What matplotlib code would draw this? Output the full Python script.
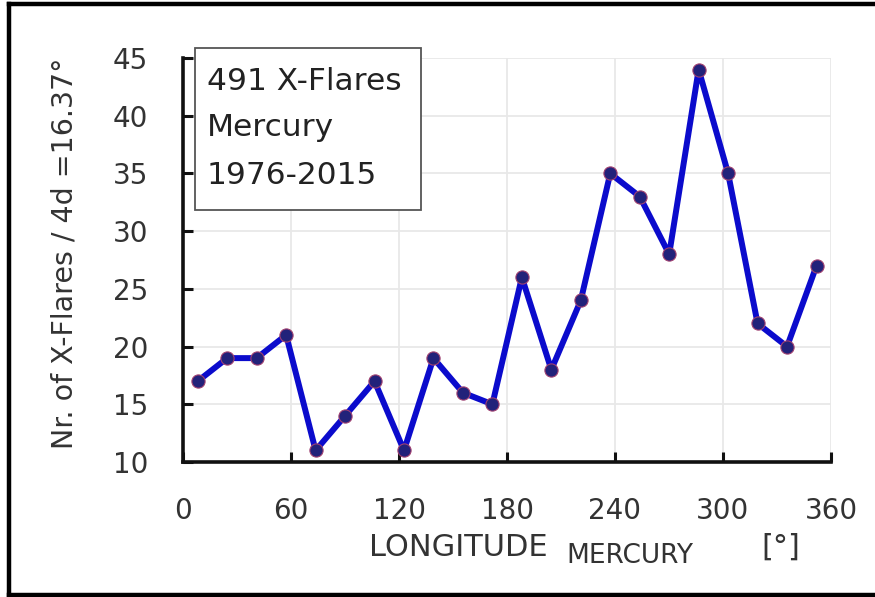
import matplotlib
matplotlib.use("Agg")
import matplotlib.pyplot as plt
from matplotlib.patches import Rectangle
from matplotlib.lines import Line2D

# ---- data ----
bin_width = 16.37
counts = [17, 19, 19, 21, 11, 14, 17, 11, 19, 16, 15, 26, 18, 24, 35, 33, 28, 44, 35, 22, 20, 27]
longitudes = [bin_width / 2 + bin_width * i for i in range(len(counts))]
x_ticks = [0, 60, 120, 180, 240, 300, 360]
y_ticks = [10, 15, 20, 25, 30, 35, 40, 45]
box_lines = ["491 X-Flares", "Mercury", "1976-2015"]
y_label = "Nr. of X-Flares / 4d =16.37°"

plt.rcParams['font.family'] = ['DejaVu Sans']
W, H = 875, 597
fig = plt.figure(figsize=(W / 100, H / 100), dpi=100)
fig.patch.set_facecolor('white')

def fx(px):
    return px / W

def fy(py):
    return 1 - py / H

TXT = '#333333'
ax = fig.add_axes([fx(183), fy(462), fx(831) - fx(183), fy(58) - fy(462)])
ax.set_xlim(0, 360)
ax.set_ylim(10, 45)
ax.set_xticks(x_ticks)
ax.set_yticks(y_ticks)
ax.grid(True, color='#e8e8e8', linewidth=1.3)
ax.set_axisbelow(True)
for s in ['top', 'right']:
    ax.spines[s].set_visible(False)
for s in ['left', 'bottom']:
    ax.spines[s].set_linewidth(2.6)
    ax.spines[s].set_color('#111111')
ax.tick_params(direction='in', length=7, width=2.2, labelsize=20, pad=25,
               colors='#111111', labelcolor=TXT)

ax.plot(longitudes, counts, color='#0b0bcc', linewidth=4.3, marker='o',
        markersize=9.5, markerfacecolor='#22227a', markeredgecolor='#a04070',
        markeredgewidth=0.8, clip_on=False, zorder=3)

# y label
fig.text(fx(65), fy(253), y_label, rotation=90, ha='center', va='center',
         fontsize=20.5, color=TXT)

# x label pieces
fig.text(fx(369), fy(547), "LONGITUDE", ha='left', va='center', fontsize=22, color=TXT)
fig.text(fx(566), fy(556), "MERCURY", ha='left', va='center', fontsize=19, color=TXT)
fig.text(fx(761), fy(547), "[°]", ha='left', va='center', fontsize=22, color=TXT)

# annotation box
fig.add_artist(Rectangle((fx(195), fy(210)), fx(421) - fx(195), fy(48) - fy(210),
                         transform=fig.transFigure, facecolor='white',
                         edgecolor='#555555', linewidth=1.3, zorder=5))
for i, t in enumerate(box_lines):
    fig.text(fx(207), fy(81 + 47 * i), t, ha='left', va='center', fontsize=22.5,
             color='#222222', zorder=6)

# outer frame (top, left, bottom)
fig.add_artist(Line2D([fx(9), fx(9)], [fy(4), fy(595)], color='black', linewidth=3.2,
                      transform=fig.transFigure, solid_capstyle='projecting'))
fig.add_artist(Line2D([fx(9), 1.0], [fy(4), fy(4)], color='black', linewidth=3.2,
                      transform=fig.transFigure, solid_capstyle='projecting'))
fig.add_artist(Line2D([fx(9), 1.0], [fy(595), fy(595)], color='black', linewidth=3.2,
                      transform=fig.transFigure, solid_capstyle='projecting'))

fig.savefig("out.png", dpi=100)
